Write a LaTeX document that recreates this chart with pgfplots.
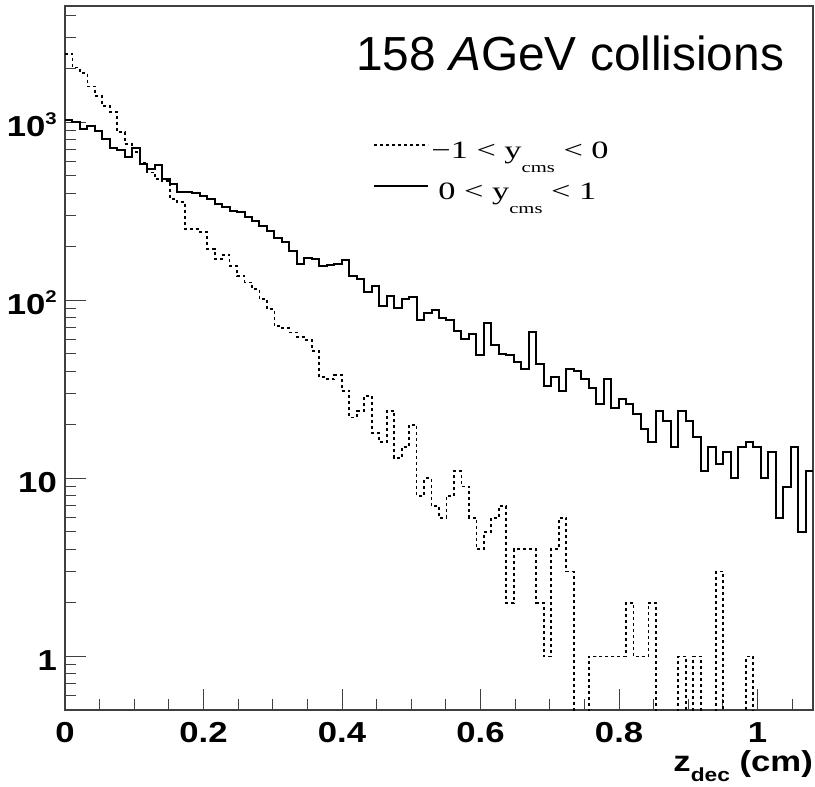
\documentclass[border=0pt]{standalone}
\usepackage{pgfplots}
\pgfplotsset{compat=1.18}
\usepackage{pgfplotstable}
\usepackage{fontspec}
\setmainfont{Liberation Sans}
\newfontfamily\tickfont[FakeStretch=1.2]{Liberation Sans}
\newfontfamily\legfont[FakeStretch=1.38]{Liberation Serif}
\newcommand\sups[1]{\raisebox{12bp}{\fontsize{17}{17}\selectfont #1}}
\newcommand\sub[1]{\raisebox{-14bp}{\fontsize{15}{15}\selectfont #1}}

% bin left edge, counts for -1<y<0 (neg) and 0<y<1 (pos); 0.1 marks an empty bin
\pgfplotstableread{
x neg pos
0 2420 1028
0.0108 2030 1006
0.0216 1890 917
0.0324 1590 953
0.0432 1410 898
0.054 1240 806
0.0648 1140 716
0.0756 880 703
0.0864 755 640
0.0972 680 714
0.108 595 583
0.1188 523 550
0.1296 480 575
0.1404 470 480
0.1512 371 450
0.162 356 405
0.1728 252 405
0.1836 252 400
0.1944 241 387
0.2052 194 371
0.216 171 347
0.2268 180 333
0.2376 156 318
0.2484 137 312
0.2592 126 292
0.27 116 280
0.2808 102 262
0.2916 89 246
0.3024 72 223
0.3132 70 212
0.324 66 190
0.3348 62 160
0.3456 60 174
0.3564 52 171
0.3672 37 156
0.378 36 158
0.3888 38 160
0.3996 31 168
0.4104 22 137
0.4212 24 132
0.432 29 111
0.4428 18 121
0.4536 16 93
0.4644 24 106
0.4752 13 90
0.486 15 102
0.4968 20 105
0.5076 8 78
0.5184 10 85
0.5292 7 88
0.54 6 80
0.5508 8 78
0.5616 11 67
0.5724 9 61
0.5832 6 65
0.594 4 49
0.6048 5 75
0.6156 6 56
0.6264 7 50
0.6372 2 49
0.648 4 45
0.6588 4 41
0.6696 4 66
0.6804 2 44
0.6912 1 33
0.702 4 37
0.7128 6 31
0.7236 3 41
0.7344 0.1 40
0.7452 0.1 36
0.756 1 32
0.7668 1 26
0.7776 1 36
0.7884 1 25
0.7992 1 28
0.81 2 26
0.8208 1 23
0.8316 1 19
0.8424 2 16
0.8532 0.1 24
0.864 0.1 21
0.8748 0.1 15
0.8856 1 24
0.8964 0.1 21
0.9072 1 17
0.918 0.1 11
0.9288 0.1 15
0.9396 3 12
0.9504 0.1 14
0.9612 0.1 10
0.972 0.1 15
0.9828 1 16
0.9936 0.1 15
1.0044 0.1 10
1.0152 0.1 14
1.026 0.1 6
1.0368 0.1 9
1.0476 0.1 15
1.0584 0.1 5
1.0692 0.1 11
1.08 0.1 11
}\zdata

\begin{document}
\begin{tikzpicture}
\useasboundingbox (-65bp,-77bp) rectangle (750bp,710bp);
\begin{axis}[
  at={(0,0)}, anchor=south west, name=ax,
  scale only axis, width=748bp, height=704bp,
  ymode=log, log basis y=10,
  xmin=0, xmax=1.08, ymin=0.5, ymax=4500,
  axis line style={black!75, line width=1.1bp},
  tick align=inside, xtick pos=bottom, ytick pos=left,
  xtick={0,0.2,0.4,0.6,0.8,1},
  xticklabels={0,0.2,0.4,0.6,0.8,1},
  minor xtick={0.05,0.1,0.15,0.25,0.3,0.35,0.45,0.5,0.55,0.65,0.7,0.75,0.85,0.9,0.95,1.05},
  ytick={1,10,100,1000},
  yticklabels={1,10,10\sups{2},10\sups{3}},
  minor ytick={0.6,0.7,0.8,0.9,2,3,4,5,6,7,8,9,20,30,40,50,60,70,80,90,200,300,400,500,600,700,800,900,2000,3000,4000},
  major tick length=21bp, minor tick length=11bp,
  every tick/.append style={black!75, line width=1bp},
  tick label style={font=\fontsize{29}{29}\tickfont\bfseries},
  xticklabel style={anchor=base, yshift=-32bp, inner sep=0pt},
  yticklabel style={anchor=base east, xshift=-8bp, yshift=-14bp, inner sep=0pt},
  xlabel={z\raisebox{-10bp}{\fontsize{19}{19}\selectfont dec} (cm)},
  xlabel style={font=\fontsize{29}{29}\tickfont\bfseries, at={(axis description cs:1,0)}, anchor=base east, yshift=-61bp, inner sep=0pt},
  legend cell align=left,
  legend style={draw=none, fill=none, at={(axis description cs:0.412,0.81)}, anchor=north west,
    font=\fontsize{25}{25}\legfont, inner sep=0pt, row sep=19bp,
    /tikz/every even column/.append style={column sep=15bp}},
  legend image code/.code={\draw[#1] (0bp,6bp) -- (54bp,6bp);},
]
\addplot[const plot, black, line width=1.8bp, dash pattern=on 3bp off 3bp] table[x=x, y=neg]{\zdata};
\addlegendentry{−1 < y\sub{cms} < 0}
\addplot[const plot, black, line width=2bp] table[x=x, y=pos]{\zdata};
\addlegendentry{\hspace{7bp}0 < y\sub{cms} < 1}
\end{axis}
\node[anchor=base west, inner sep=0pt, font=\fontsize{48}{48}\selectfont] at (291bp,639bp) {158 \textit{A}GeV collisions};
\end{tikzpicture}
\end{document}
